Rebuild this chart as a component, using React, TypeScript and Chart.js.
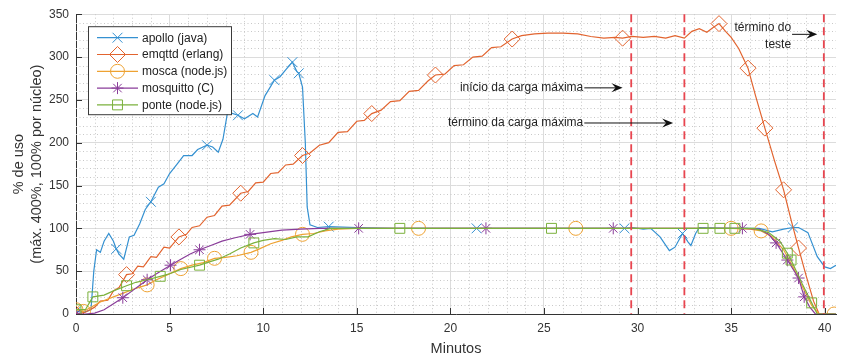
import React, { useEffect, useRef } from 'react';
import { Chart, registerables } from 'chart.js';
import { drawPoint } from 'chart.js/helpers';

Chart.register(...registerables);

const FONT = "'Liberation Sans', Arial, Helvetica, sans-serif";

// ---- tick labels ----
const xTickValues = [0, 5, 10, 15, 20, 25, 30, 35, 40];
const yTickValues = [0, 50, 100, 150, 200, 250, 300, 350];

// ---- series names ----
const seriesNames = ['apollo (java)', 'emqttd (erlang)', 'mosca (node.js)', 'mosquitto (C)', 'ponte (node.js)'];

// ---- apollo (java) ----
const apolloX = [0, 0.4, 0.8, 0.95, 1.1, 1.3, 1.5, 1.75, 2.0, 2.15, 2.3, 2.55, 2.85, 3.1, 3.4, 3.7, 4.0, 4.4, 4.7, 5.0, 5.4, 5.75, 6.2, 6.5, 7.0, 7.3, 7.6, 7.85, 8.1, 8.65, 9.0, 9.45, 9.7, 10.1, 10.6, 10.9, 11.2, 11.56, 11.8, 11.9, 12.1, 12.25, 12.35, 12.5, 12.9, 13.5, 15, 17, 19, 21.4, 23, 25, 27, 29.3, 29.7, 30.3, 30.7, 31.2, 31.7, 32.0, 32.4, 32.7, 32.85, 33.1, 33.3, 35, 36.5, 37.2, 37.8, 38.3, 38.6, 39.1, 39.6, 40.0, 40.3, 40.6];
const apolloY = [3, 2, 5, 50, 75, 72, 85, 94, 85, 76, 70, 64, 90, 92, 105, 122, 131, 148, 152, 164, 175, 185, 185, 192, 197, 195, 189, 204, 236, 232, 228, 234, 230, 255, 273, 277, 285, 294, 283, 281, 265, 200, 125, 104, 101, 102, 101, 100, 100, 100, 100, 100, 100, 100, 101, 99, 100, 90, 74, 78, 94, 84, 80, 94, 101, 100, 100, 96, 99, 101, 101, 95, 67, 55, 53, 57];
const apolloMarks = [0, 2.15, 4.0, 7.0, 8.65, 10.6, 11.56, 11.9, 13.5, 21.4, 29.3, 32.4, 38.3];

// ---- emqttd (erlang) ----
const emqttdX = [0, 0.5, 1.0, 1.3, 1.7, 2.0, 2.3, 2.7, 3.0, 3.3, 3.6, 4.0, 4.3, 4.7, 5.0, 5.5, 5.9, 6.2, 6.6, 7.0, 7.4, 7.8, 8.2, 8.8, 9.2, 9.6, 10.0, 10.4, 10.8, 11.2, 11.6, 12.1, 12.5, 13.0, 13.5, 14.0, 14.5, 15.0, 15.4, 15.8, 16.3, 16.8, 17.3, 17.8, 18.3, 18.8, 19.2, 19.7, 20.2, 20.7, 21.2, 21.7, 22.2, 22.7, 23.3, 23.8, 24.5, 25.2, 26.0, 26.8, 27.5, 28.2, 28.8, 29.2, 29.7, 30.3, 30.9, 31.5, 32.0, 32.5, 32.9, 33.3, 33.7, 34.0, 34.35, 34.7, 35.0, 35.4, 35.9, 36.3, 36.8, 37.3, 37.8, 38.2, 38.6, 39.0, 39.4, 39.7, 40.6];
const emqttdY = [0, 2, 8, 15, 16, 27, 31, 46, 47, 56, 55, 67, 66, 78, 77, 90, 93, 101, 103, 113, 115, 126, 127, 141, 143, 153, 154, 164, 165, 174, 175, 185, 188, 197, 200, 212, 213, 225, 226, 234, 238, 248, 249, 260, 261, 272, 279, 280, 290, 291, 300, 301, 311, 312, 321, 325, 327, 328, 328, 327, 324, 322, 323, 322, 324, 323, 324, 322, 325, 322, 330, 333, 329, 334, 339, 330, 323, 310, 287, 255, 217, 180, 145, 110, 77, 45, 15, 0, 0];
const emqttdMarks = [0, 2.7, 5.5, 8.8, 12.1, 15.8, 19.2, 23.3, 29.2, 34.35, 35.9, 36.8, 37.8, 38.6];

// ---- mosca (node.js) ----
const moscaX = [0, 0.4, 0.8, 1.3, 2.0, 2.6, 3.2, 3.8, 4.3, 4.9, 5.6, 6.2, 6.8, 7.4, 8.0, 8.6, 9.35, 9.8, 10.4, 11.0, 11.5, 12.1, 12.7, 13.3, 14.0, 15.0, 18.3, 22, 26.7, 31, 35.0, 36.0, 36.6, 37.2, 37.8, 38.3, 38.8, 39.3, 39.7, 40.5];
const moscaY = [5, 3, 8, 14, 20, 25, 30, 34, 40, 46, 53, 57, 60, 65, 66, 68, 72, 76, 82, 86, 90, 93, 94, 97, 99, 100, 100, 100, 100, 100, 100, 99, 97, 90, 75, 55, 32, 10, 0, 0];
const moscaMarks = [0, 0.4, 3.8, 5.6, 7.4, 9.35, 12.1, 18.3, 26.7, 35.0, 36.6, 40.5];

// ---- mosquitto (C) ----
const mosquittoX = [0, 0.5, 1.0, 1.5, 2.0, 2.5, 3.0, 3.5, 3.8, 4.3, 5.05, 5.6, 6.1, 6.6, 7.2, 7.8, 8.5, 9.3, 10, 11, 12, 13, 15.1, 18, 21.9, 25, 28.7, 32, 35.6, 36.5, 37.0, 37.4, 38.0, 38.6, 38.9, 39.2, 39.5, 40.6];
const mosquittoY = [0, 0, 1, 5, 12, 19, 27, 35, 40, 47, 57, 64, 70, 75, 80, 85, 89, 93, 95, 98, 99, 100, 100, 100, 100, 100, 100, 100, 100, 99, 93, 83, 63, 42, 20, 8, 0, 0];
const mosquittoMarks = [0, 2.5, 3.8, 5.05, 6.6, 9.3, 15.1, 21.9, 28.7, 35.6, 37.4, 38.0, 38.6, 38.9];

// ---- ponte (node.js) ----
const ponteX = [0, 0.5, 0.9, 1.5, 2.0, 2.7, 3.2, 3.8, 4.5, 5.0, 5.6, 6.6, 7.0, 7.6, 8.2, 8.8, 9.5, 10.0, 10.6, 11.2, 11.8, 12.4, 13.0, 13.6, 17.3, 21, 25.4, 30, 33.5, 34.4, 35.2, 36.2, 37.0, 37.6, 38.0, 38.2, 38.8, 39.3, 39.6, 40.6];
const ponteY = [5, 5, 20, 22, 27, 33, 37, 40, 44, 47, 52, 57, 60, 64, 70, 77, 83, 86, 88, 87, 90, 90, 96, 100, 100, 100, 100, 100, 100, 100, 100, 100, 95, 85, 71, 63, 35, 13, 0, 0];
const ponteMarks = [0, 0.9, 2.7, 4.5, 6.6, 9.5, 17.3, 25.4, 33.5, 34.4, 35.2, 38.0, 38.2, 39.3];

// ---- reference lines and notes (minutes / %) ----
const redLinesX = [29.66, 32.5, 39.95];
const notes = [
  { lines: ['início da carga máxima'], x: 27.1, y: 264, arrowTo: 29.2, arrowY: 264 },
  { lines: ['término da carga máxima'], x: 27.1, y: 223, arrowTo: 31.9, arrowY: 223 },
  { lines: ['término do', 'teste'], x: 38.2, y: 334, arrowTo: 39.6, arrowY: 326.5 },
];

const colors = ['#3591d1', '#e2642f', '#eea232', '#8a3d9a', '#7bb13c'];
const markers = ['crossRot', 'rectRot', 'circle', 'star', 'rect'];
const markerR = [7, 8, 7, 6, 7];

const xsAll = [apolloX, emqttdX, moscaX, mosquittoX, ponteX];
const ysAll = [apolloY, emqttdY, moscaY, mosquittoY, ponteY];
const marksAll = [apolloMarks, emqttdMarks, moscaMarks, mosquittoMarks, ponteMarks];

const decorPlugin = {
  id: 'decor',
  beforeDatasetsDraw(chart: any) {
    const { ctx, chartArea: a, scales } = chart;
    const x = scales.x, y = scales.y;
    ctx.save();
    ctx.strokeStyle = '#c8c8c8';
    ctx.lineWidth = 1;
    ctx.setLineDash([1, 2.5]);
    for (let i = 1; i <= 40; i++) {
      if (i % 5 === 0) continue;
      const px = Math.round(x.getPixelForValue(i)) + 0.5;
      ctx.beginPath(); ctx.moveTo(px, a.top); ctx.lineTo(px, a.bottom); ctx.stroke();
    }
    for (let v = 10; v < 350; v += 10) {
      if (v % 50 === 0) continue;
      const py = Math.round(y.getPixelForValue(v)) + 0.5;
      ctx.beginPath(); ctx.moveTo(a.left, py); ctx.lineTo(a.right, py); ctx.stroke();
    }
    ctx.setLineDash([]);
    ctx.strokeStyle = '#333';
    for (const v of xTickValues) {
      const px = Math.round(x.getPixelForValue(v)) + 0.5;
      ctx.beginPath(); ctx.moveTo(px, a.bottom); ctx.lineTo(px, a.bottom - 6); ctx.stroke();
    }
    for (const v of yTickValues) {
      const py = Math.round(y.getPixelForValue(v)) + 0.5;
      ctx.beginPath(); ctx.moveTo(a.left, py); ctx.lineTo(a.left + 6, py); ctx.stroke();
    }
    ctx.restore();
  },
  afterDatasetsDraw(chart: any) {
    const { ctx, chartArea: a, scales } = chart;
    const x = scales.x;
    ctx.save();
    ctx.strokeStyle = '#e8454f';
    ctx.lineWidth = 1.8;
    ctx.setLineDash([8, 5]);
    for (const v of redLinesX) {
      const px = x.getPixelForValue(v);
      ctx.beginPath(); ctx.moveTo(px, a.top); ctx.lineTo(px, a.bottom); ctx.stroke();
    }
    ctx.restore();
  },
  afterDraw(chart: any) {
    const { ctx, chartArea: a, scales } = chart;
    const x = scales.x, y = scales.y;
    ctx.save();
    ctx.font = `12px ${FONT}`;
    ctx.fillStyle = '#222';
    ctx.textAlign = 'right';
    ctx.textBaseline = 'middle';
    for (const n of notes) {
      const px = x.getPixelForValue(n.x);
      const py = y.getPixelForValue(n.y);
      n.lines.forEach((t, i) => ctx.fillText(t, px, py + i * 17));
      const ay = y.getPixelForValue(n.arrowY);
      const ax2 = x.getPixelForValue(n.arrowTo);
      ctx.strokeStyle = '#111';
      ctx.lineWidth = 1;
      ctx.beginPath(); ctx.moveTo(px + 1, ay); ctx.lineTo(ax2 - 6, ay); ctx.stroke();
      ctx.fillStyle = '#111';
      ctx.beginPath();
      ctx.moveTo(ax2, ay); ctx.lineTo(ax2 - 11, ay - 4.5); ctx.lineTo(ax2 - 7, ay); ctx.lineTo(ax2 - 11, ay + 4.5);
      ctx.closePath(); ctx.fill();
      ctx.fillStyle = '#222';
    }
    const lx = a.left + 12, ly = a.top + 12, lw = 143, lh = 88;
    ctx.fillStyle = '#ffffff';
    ctx.fillRect(lx, ly, lw, lh);
    ctx.strokeStyle = '#3a3a3a';
    ctx.lineWidth = 1;
    ctx.strokeRect(lx + 0.5, ly + 0.5, lw, lh);
    ctx.textAlign = 'left';
    ctx.font = `12px ${FONT}`;
    seriesNames.forEach((name, i) => {
      const ry = ly + 11.5 + i * 16.8;
      ctx.strokeStyle = colors[i];
      ctx.lineWidth = 1.2;
      ctx.beginPath(); ctx.moveTo(lx + 9, ry); ctx.lineTo(lx + 50, ry); ctx.stroke();
      ctx.fillStyle = 'rgba(0,0,0,0)';
      ctx.lineWidth = 1;
      drawPoint(ctx, { pointStyle: markers[i], radius: markerR[i], borderWidth: 1, rotation: 0 } as any, lx + 29.5, ry);
      ctx.fillStyle = '#222';
      ctx.fillText(name, lx + 54, ry + 0.5);
    });
    ctx.restore();
  },
};

export default function App() {
  const ref = useRef<HTMLCanvasElement>(null);
  useEffect(() => {
    document.body.style.margin = '0';
    const datasets = seriesNames.map((name, i) => {
      const xs = xsAll[i];
      const ys = ysAll[i];
      const marks = new Set(marksAll[i]);
      return {
        label: name,
        data: xs.map((xv, j) => ({ x: xv, y: ys[j] })),
        borderColor: colors[i],
        backgroundColor: 'rgba(0,0,0,0)',
        borderWidth: 1.2,
        pointStyle: markers[i],
        pointRadius: (c: any) => (marks.has(xs[c.dataIndex]) ? markerR[i] : 0),
        pointHoverRadius: 0,
        pointBorderColor: colors[i],
        pointBackgroundColor: 'rgba(0,0,0,0)',
        pointBorderWidth: 1,
        tension: 0,
        fill: false,
        order: 4 - i,
      };
    });
    const chart = new Chart(ref.current as HTMLCanvasElement, {
      type: 'line',
      data: { datasets } as any,
      options: {
        responsive: false,
        animation: false,
        events: [],
        layout: { padding: { top: 14, left: 0, right: 0, bottom: 0 } },
        plugins: { legend: { display: false }, tooltip: { enabled: false } },
        scales: {
          x: {
            type: 'linear',
            min: 0,
            max: 40.6,
            afterBuildTicks: (s: any) => { s.ticks = xTickValues.map((v) => ({ value: v })); },
            afterFit: (s: any) => { s.height = 44; },
            ticks: { includeBounds: false, autoSkip: false, maxRotation: 0, padding: 7, color: '#333', font: { family: FONT, size: 12 } },
            grid: { color: '#dcdcdc', lineWidth: 1, drawTicks: false },
            border: { color: '#333', width: 1 },
            title: { display: true, text: 'Minutos', color: '#333', font: { family: FONT, size: 14.5, lineHeight: 1.25 }, padding: { top: 0, bottom: 0 } },
          },
          y: {
            type: 'linear',
            min: 0,
            max: 350,
            afterBuildTicks: (s: any) => { s.ticks = yTickValues.map((v) => ({ value: v })); },
            afterFit: (s: any) => { s.width = 76; },
            ticks: { includeBounds: false, autoSkip: false, padding: 7, color: '#333', font: { family: FONT, size: 12 } },
            grid: { color: '#dcdcdc', lineWidth: 1, drawTicks: false },
            border: { color: '#333', width: 1 },
            title: { display: true, text: ['% de uso', '(máx. 400%, 100% por núcleo)'], color: '#333', font: { family: FONT, size: 14.5, lineHeight: 1.25 }, padding: { top: 10, bottom: 0 } },
          },
        },
      } as any,
      plugins: [decorPlugin],
    });
    return () => chart.destroy();
  }, []);
  return (
    <div style={{ width: 845, height: 358 }}>
      <canvas ref={ref} width={845} height={358} style={{ display: 'block' }} />
    </div>
  );
}
